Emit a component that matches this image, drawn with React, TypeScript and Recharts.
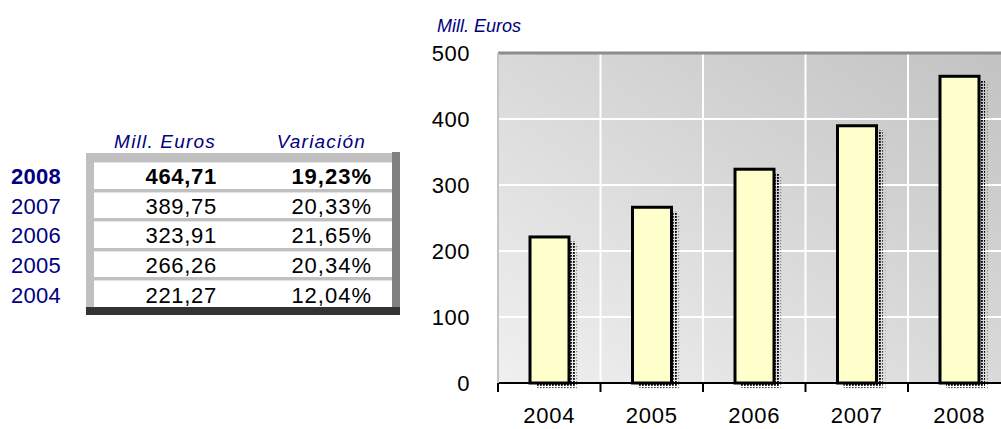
import React from 'react';
import { BarChart, Bar, XAxis, YAxis, CartesianGrid, ReferenceLine } from 'recharts';

// ---- data ----
const years = ['2004', '2005', '2006', '2007', '2008'];
const values = [221.27, 266.26, 323.91, 389.75, 464.71];
const variations = ['12,04%', '20,34%', '21,65%', '20,33%', '19,23%'];
const yTicks = [0, 100, 200, 300, 400, 500];
const unitLabel = 'Mill. Euros';
const variationLabel = 'Variación';

const data = years.map((year, i) => ({ year, value: values[i] }));
const tableRows = years
  .map((year, i) => ({ year, value: values[i].toFixed(2).replace('.', ','), variation: variations[i] }))
  .reverse();

// ---- layout ----
const FONT = '"Liberation Sans", Arial, Helvetica, sans-serif';
const NAVY = '#000080';
const CHART_W = 1020;
const CHART_H = 429;
const YAXIS_W = 498;
const XAXIS_H = 46;
const MARGIN = { top: 53, right: 9.5, bottom: 0, left: 0 };
const PLOT_W = CHART_W - YAXIS_W - MARGIN.left - MARGIN.right;
const X_TICK_GAP = 24;

const XTick = (props: any) => {
  const { x, y, payload, index, visibleTicksCount } = props;
  const count = visibleTicksCount || years.length;
  const w = typeof props.width === 'number' && props.width > 0 ? props.width : PLOT_W;
  const band = w / count;
  const axisY = y - X_TICK_GAP;
  return (
    <g>
      <line x1={x - band / 2} x2={x - band / 2} y1={axisY} y2={axisY + 9} stroke="#000" strokeWidth={2} />
      {index === count - 1 && (
        <line x1={x + band / 2} x2={x + band / 2} y1={axisY} y2={axisY + 9} stroke="#000" strokeWidth={2} />
      )}
      <text
        x={x}
        y={y}
        dy="0.71em"
        textAnchor="middle"
        fontSize={22}
        letterSpacing={0.8}
        fontFamily={FONT}
        fill="#000"
      >
        {payload.value}
      </text>
    </g>
  );
};

const BarShape = (props: any) => {
  const { x, y, width, height } = props;
  if (!height || height <= 0) return null;
  return (
    <g>
      <rect x={x + 9} y={y + 7} width={width} height={height} fill="url(#shadowGray)" />
      <rect x={x + 6} y={y + 4.5} width={width} height={height} fill="url(#shadowDots)" />
      <rect x={x} y={y} width={width} height={height} fill="#FFFFCC" stroke="#000" strokeWidth={3} />
    </g>
  );
};

const rowTop = (i: number) => 162 + i * 29.6;

export default function App() {
  return (
    <div
      style={{
        position: 'absolute',
        left: 0,
        top: 0,
        width: 1001,
        height: 429,
        overflow: 'hidden',
        background: '#fff',
        fontFamily: FONT,
      }}
    >
      {/* table header */}
      <div
        style={{
          position: 'absolute',
          right: 1001 - 216,
          top: 132,
          fontSize: 19,
          lineHeight: 1,
          fontStyle: 'italic',
          color: NAVY,
          letterSpacing: 1.2,
          whiteSpace: 'nowrap',
        }}
      >
        {unitLabel}
      </div>
      <div
        style={{
          position: 'absolute',
          right: 1001 - 366,
          top: 132,
          fontSize: 19,
          lineHeight: 1,
          fontStyle: 'italic',
          color: NAVY,
          letterSpacing: 1.2,
          whiteSpace: 'nowrap',
        }}
      >
        {variationLabel}
      </div>

      {/* table frame */}
      <div style={{ position: 'absolute', left: 86, top: 153, width: 306, height: 154, background: '#C0C0C0' }} />
      <div style={{ position: 'absolute', left: 392, top: 152, width: 8, height: 155, background: '#808080' }} />
      <div style={{ position: 'absolute', left: 86, top: 307, width: 314, height: 8, background: '#333333' }} />

      {tableRows.map((r, i) => {
        const bold = i === 0;
        const top = rowTop(i);
        return (
          <React.Fragment key={r.year}>
            <div
              style={{
                position: 'absolute',
                left: 94,
                top,
                width: 298,
                height: 26.5,
                background: '#fff',
                borderTop: '1px solid #e4e4e4',
                boxSizing: 'border-box',
              }}
            />
            <div
              style={{
                position: 'absolute',
                left: 11,
                top: top + 2,
                height: 26.5,
                display: 'flex',
                alignItems: 'center',
                fontSize: 22,
                lineHeight: 1,
                color: NAVY,
                fontWeight: bold ? 'bold' : 'normal',
                letterSpacing: 0.3,
              }}
            >
              {r.year}
            </div>
            <div
              style={{
                position: 'absolute',
                right: 1001 - 217,
                top: top + 2,
                height: 26.5,
                display: 'flex',
                alignItems: 'center',
                fontSize: 22,
                lineHeight: 1,
                color: '#000',
                fontWeight: bold ? 'bold' : 'normal',
                letterSpacing: 0.7,
              }}
            >
              {r.value}
            </div>
            <div
              style={{
                position: 'absolute',
                right: 1001 - 372,
                top: top + 2,
                height: 26.5,
                display: 'flex',
                alignItems: 'center',
                fontSize: 22,
                lineHeight: 1,
                color: '#000',
                fontWeight: bold ? 'bold' : 'normal',
                letterSpacing: 1,
              }}
            >
              {r.variation}
            </div>
          </React.Fragment>
        );
      })}

      {/* chart unit label */}
      <div
        style={{
          position: 'absolute',
          left: 437,
          top: 16.5,
          fontSize: 18,
          lineHeight: 1,
          fontStyle: 'italic',
          color: NAVY,
          whiteSpace: 'nowrap',
        }}
      >
        {unitLabel}
      </div>

      <div style={{ position: 'absolute', left: 0, top: 0 }}>
        <BarChart width={CHART_W} height={CHART_H} data={data} margin={MARGIN}>
          <defs>
            <linearGradient id="bgGrad" x1="0" y1="1" x2="1" y2="0">
              <stop offset="0%" stopColor="#F0F0F0" />
              <stop offset="100%" stopColor="#C2C2C2" />
            </linearGradient>
            <pattern id="shadowDots" width="3" height="3" patternUnits="userSpaceOnUse">
              <rect x="0" y="0" width="1.8" height="1.8" fill="#000" />
            </pattern>
            <pattern id="shadowGray" width="3" height="3" patternUnits="userSpaceOnUse">
              <rect x="0" y="0" width="1.2" height="1.2" fill="#8a8a8a" />
            </pattern>
          </defs>
          <CartesianGrid
            stroke="#ffffff"
            strokeWidth={2}
            fill="url(#bgGrad)"
            fillOpacity={1}
            verticalCoordinatesGenerator={(args: any) => {
              const off = args && args.offset;
              const left = off && typeof off.left === 'number' ? off.left : YAXIS_W + MARGIN.left;
              const w = off && typeof off.width === 'number' ? off.width : PLOT_W;
              return years.map((_, i) => left + (i * w) / years.length).concat([left + w]);
            }}
          />
          <XAxis
            dataKey="year"
            height={XAXIS_H}
            tickLine={false}
            tickSize={0}
            tickMargin={X_TICK_GAP}
            axisLine={{ stroke: '#000', strokeWidth: 2 }}
            tick={<XTick />}
            interval={0}
          />
          <YAxis
            width={YAXIS_W}
            domain={[0, 500]}
            ticks={yTicks}
            tickLine={false}
            tickSize={0}
            tickMargin={28}
            axisLine={{ stroke: '#c4c4c4', strokeWidth: 2 }}
            tick={{ fontSize: 22, fill: '#000', fontFamily: FONT, letterSpacing: 0.5 }}
            interval={0}
          />
          <ReferenceLine y={500} stroke="#8c8c8c" strokeWidth={3} />
          <Bar dataKey="value" barSize={39} shape={<BarShape />} isAnimationActive={false} />
        </BarChart>
      </div>
    </div>
  );
}
